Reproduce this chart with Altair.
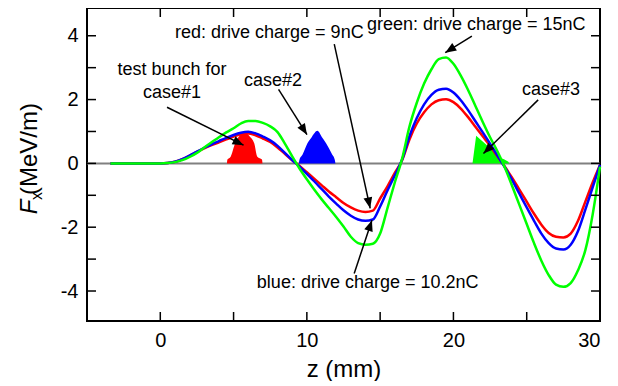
import math
import altair as alt
import pandas as pd

FONT = "Liberation Sans"

# ---- curve data (z in mm, Fx in MeV/m) ----
z_curve = [-3.4, -2.0, -1.0, 0.0, 0.5, 1.0, 1.5, 2.0, 2.5, 3.0, 3.5, 4.0, 4.5, 5.0, 5.5, 6.0,
           6.5, 7.0, 7.5, 8.0, 8.5, 9.0, 9.5, 10.0, 10.5, 11.0, 11.5, 12.0, 12.5, 13.0, 13.5, 14.0,
           14.5, 15.0, 15.5, 16.0, 16.5, 17.0, 17.5, 18.0, 18.5, 19.0, 19.5, 20.0, 20.5, 21.0, 21.5,
           22.0, 22.5, 23.0, 23.5, 24.0, 24.5, 25.0, 25.5, 26.0, 26.5, 27.0, 27.5, 28.0, 28.5, 29.0,
           29.5, 30.0]
red = [0, 0, 0, 0, 0.01, 0.05, 0.13, 0.24, 0.36, 0.47, 0.57, 0.66, 0.75, 0.84, 0.91, 0.94,
       0.88, 0.78, 0.67, 0.5, 0.3, 0.1, -0.08, -0.28, -0.48, -0.68, -0.88, -1.06, -1.24, -1.38, -1.48, -1.52,
       -1.48, -1.1, -0.72, -0.3, 0.1, 0.75, 1.25, 1.6, 1.85, 1.98, 2.01, 1.92, 1.72, 1.45, 1.15,
       0.85, 0.55, 0.22, -0.1, -0.45, -0.82, -1.2, -1.58, -1.92, -2.18, -2.3, -2.32, -2.2, -1.8, -1.2,
       -0.6, -0.05]
blue = [0, 0, 0, 0, 0.01, 0.05, 0.13, 0.24, 0.37, 0.49, 0.6, 0.7, 0.8, 0.89, 0.96, 0.99,
        0.94, 0.84, 0.72, 0.55, 0.33, 0.1, -0.1, -0.33, -0.56, -0.8, -1.04, -1.26, -1.47, -1.64, -1.76, -1.8,
        -1.76, -1.35, -0.85, -0.38, 0.12, 0.85, 1.42, 1.85, 2.15, 2.31, 2.34, 2.22, 1.98, 1.67, 1.32,
        0.97, 0.62, 0.25, -0.12, -0.52, -0.95, -1.38, -1.8, -2.2, -2.5, -2.67, -2.7, -2.55, -2.12, -1.45,
        -0.75, -0.05]
green = [0, 0, 0, 0, 0.01, 0.04, 0.1, 0.2, 0.33, 0.5, 0.66, 0.82, 0.97, 1.1, 1.25, 1.33,
         1.33, 1.27, 1.16, 0.98, 0.62, 0.22, -0.16, -0.5, -0.82, -1.12, -1.4, -1.68, -1.98, -2.3, -2.5, -2.55,
         -2.52, -2.2, -1.4, -0.6, 0.15, 1.15, 1.9, 2.5, 2.95, 3.27, 3.32, 3.12, 2.75, 2.3, 1.8,
         1.3, 0.82, 0.38, -0.12, -0.7, -1.3, -1.9, -2.5, -3.05, -3.5, -3.8, -3.87, -3.75, -3.35, -2.72,
         -1.6, -0.1]

# ---- bunch profiles ----
red_bunch_z = [4.55, 4.58, 4.8, 5.11, 5.34, 5.75, 6.13, 6.41, 6.62, 6.94, 6.97]
red_bunch_F = [0, 0.12, 0.21, 0.63, 0.83, 0.95, 0.83, 0.63, 0.21, 0.12, 0]
blue_bunch_z = [9.45, 9.5, 9.7, 10.04, 10.34, 10.72, 11.02, 11.31, 11.7, 11.9, 11.95]
blue_bunch_F = [0, 0.12, 0.27, 0.63, 0.83, 1.02, 0.83, 0.63, 0.3, 0.12, 0]
green_bunch_z = [21.3, 21.55, 22.4, 23.2, 23.45, 23.75, 23.8]
green_bunch_F = [0, 0.87, 0.52, 0.17, 0.13, 0.05, 0]

# ---- annotations ----
ann_text = ["test bunch for", "case#1", "case#2", "red: drive charge = 9nC",
            "green: drive charge = 15nC", "case#3", "blue: drive charge = 10.2nC"]
ann_z = [0.80, 0.80, 7.69, 7.44, 21.56, 26.66, 14.15]
ann_F = [2.92, 2.22, 2.58, 4.08, 4.35, 2.30, -3.75]

arrow_z_tail = [0.46, 8.07, 11.87, 21.26, 25.78, 13.23]
arrow_F_tail = [1.76, 2.32, 3.74, 3.99, 1.99, -3.45]
arrow_z_tip = [5.68, 10.01, 14.32, 19.44, 22.05, 14.44]
arrow_F_tip = [0.57, 0.90, -1.41, 3.47, 0.31, -1.78]

x_tick_vals = [0, 5, 10, 15, 20, 25, 30]
y_tick_vals = [-4, -3, -2, -1, 0, 1, 2, 3, 4]
x_label_vals = [0, 10, 20, 30]
y_label_vals = [-4, -2, 0, 2, 4]

# ---- layout ----
W, H = 513, 313
x_dom = [-5, 30]
y_dom = [-4.94, 4.87]
px_per_z = W / (x_dom[1] - x_dom[0])
px_per_F = H / (y_dom[1] - y_dom[0])

xs = alt.Scale(domain=x_dom, nice=False, zero=False)
ys = alt.Scale(domain=y_dom, nice=False, zero=False)
xaxis = alt.Axis(values=x_label_vals, ticks=False, tickSize=0, domain=False, grid=False,
                 labelFont=FONT, labelFontSize=20, labelColor="black", labelPadding=9,
                 title="z (mm)", titleFont=FONT, titleFontSize=24, titleFontWeight="normal",
                 titleColor="black", titlePadding=7)
yaxis = alt.Axis(values=y_label_vals, ticks=False, tickSize=0, domain=False, grid=False,
                 labelFont=FONT, labelFontSize=20, labelColor="black", labelPadding=9,
                 labelExpr="'' + datum.value", title=None)
X = alt.X("z:Q", scale=xs, axis=xaxis)
Y = alt.Y("F:Q", scale=ys, axis=yaxis)

layers = []

# zero line
layers.append(alt.Chart(pd.DataFrame({"F": [0]})).mark_rule(color="#808080", strokeWidth=2).encode(y=Y))

# bunches
for bz, bF, col, interp in [(red_bunch_z, red_bunch_F, "#ff0000", "monotone"),
                            (blue_bunch_z, blue_bunch_F, "#0000ff", "monotone"),
                            (green_bunch_z, green_bunch_F, "#00ff00", "linear")]:
    dfb = pd.DataFrame({"z": bz, "F": bF, "F0": [0] * len(bz)})
    layers.append(alt.Chart(dfb).mark_area(color=col, opacity=1, interpolate=interp)
                  .encode(x=X, y=Y, y2="F0:Q"))

# curves
for vals, col in [(red, "#ff0000"), (blue, "#0000ff"), (green, "#00ff00")]:
    dfc = pd.DataFrame({"z": z_curve, "F": vals})
    layers.append(alt.Chart(dfc).mark_line(color=col, strokeWidth=2.5, interpolate="monotone")
                  .encode(x=X, y=Y))

# inward ticks on all four sides
dfy = pd.DataFrame({"F": y_tick_vals})
dfx = pd.DataFrame({"z": x_tick_vals})
tk = dict(color="black", strokeWidth=1.5)
layers.append(alt.Chart(dfy).mark_rule(**tk).encode(y=Y, x=alt.value(0), x2=alt.value(9)))
layers.append(alt.Chart(dfy).mark_rule(**tk).encode(y=Y, x=alt.value(W - 9), x2=alt.value(W)))
layers.append(alt.Chart(dfx).mark_rule(**tk).encode(x=X, y=alt.value(H), y2=alt.value(H - 9)))
layers.append(alt.Chart(dfx).mark_rule(**tk).encode(x=X, y=alt.value(0), y2=alt.value(9)))

# arrows
angles = []
for zt, Ft, zh, Fh in zip(arrow_z_tail, arrow_F_tail, arrow_z_tip, arrow_F_tip):
    dx = (zh - zt) * px_per_z
    dy = -(Fh - Ft) * px_per_F
    a = math.degrees(math.atan2(dx, -dy)) % 360
    angles.append(a)
dfa = pd.DataFrame({"z": arrow_z_tail, "F": arrow_F_tail, "z2": arrow_z_tip, "F2": arrow_F_tip})
layers.append(alt.Chart(dfa).mark_rule(color="black", strokeWidth=1.5)
              .encode(x=X, y=Y, x2="z2:Q", y2="F2:Q"))
dfh = pd.DataFrame({"z": arrow_z_tip, "F": arrow_F_tip, "ang": angles})
layers.append(alt.Chart(dfh).mark_point(shape="M0,0L-0.4,1L0.4,1Z", filled=True, fill="black",
                                        stroke=None, size=484, opacity=1)
              .encode(x=X, y=Y, angle=alt.Angle("ang:Q", scale=None)))

# annotation texts
dft = pd.DataFrame({"z": ann_z, "F": ann_F, "t": ann_text})
layers.append(alt.Chart(dft).mark_text(font=FONT, fontSize=18, color="black", align="center",
                                       baseline="middle")
              .encode(x=X, y=Y, text="t:N"))

# y-axis title pieces: italic F, subscript x, (MeV/m)
layers.append(alt.Chart(pd.DataFrame({"t": ["(MeV/m)"]})).mark_text(
    font=FONT, fontSize=24, color="black", angle=270, align="center", baseline="middle")
    .encode(text="t:N", x=alt.value(-57), y=alt.value(141)))
layers.append(alt.Chart(pd.DataFrame({"t": ["F"]})).mark_text(
    font=FONT, fontSize=24, fontStyle="italic", color="black", angle=270, align="center",
    baseline="middle").encode(text="t:N", x=alt.value(-57), y=alt.value(199)))
layers.append(alt.Chart(pd.DataFrame({"t": ["x"]})).mark_text(
    font=FONT, fontSize=16, color="black", angle=270, align="center", baseline="middle")
    .encode(text="t:N", x=alt.value(-50), y=alt.value(188)))

chart = alt.layer(*layers).properties(
    width=W, height=H,
    autosize=alt.AutoSizeParams(type="none"),
    padding={"left": 79, "top": 0, "right": 10, "bottom": 60},
    background="white",
).configure_view(stroke="black", strokeWidth=2)

chart.save("out.html", embed_options={"renderer": "svg", "actions": False})
